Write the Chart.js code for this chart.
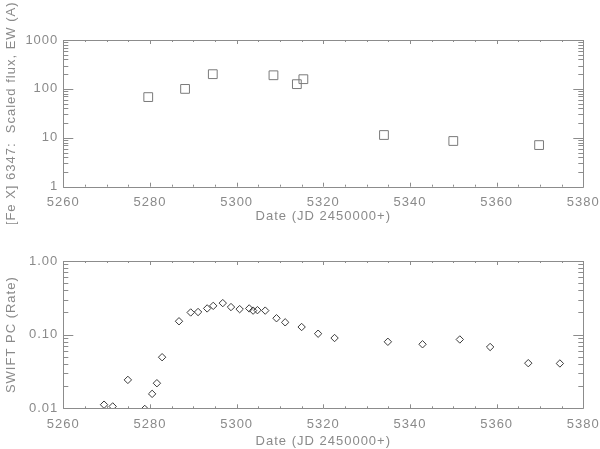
<!DOCTYPE html>
<html><head><meta charset="utf-8">
<script src="https://cdn.jsdelivr.net/npm/chart.js@4"></script>
<style>
html,body{margin:0;padding:0;background:#fff;}
#wrap{position:relative;width:600px;height:449px;}
.c{position:absolute;left:0;}
</style></head>
<body><div id="wrap">
<div class="c" style="top:0;width:600px;height:224px"><canvas id="top"></canvas></div>
<div class="c" style="top:224px;width:600px;height:225px"><canvas id="bot"></canvas></div>
</div>
<script>
// ---- data ----
const feDates = [5279.6, 5288.1, 5294.5, 5308.5, 5313.9, 5315.4, 5334.0, 5350.0, 5369.8];
const feFlux  = [68, 100, 200, 190, 125, 158, 11.4, 8.6, 7.1];

const swiftDates = [5269.4, 5271.4, 5274.9, 5278.8, 5280.5, 5281.6, 5282.8, 5286.7, 5289.4, 5291.1,
                    5293.2, 5294.6, 5296.8, 5298.7, 5300.7, 5302.9, 5303.8, 5304.8, 5306.6, 5309.2,
                    5311.2, 5315.0, 5318.8, 5322.6, 5334.9, 5342.9, 5351.5, 5358.5, 5367.3, 5374.6];
const swiftRate  = [0.0112, 0.0106, 0.0243, 0.0098, 0.0157, 0.0219, 0.0494, 0.152, 0.200, 0.203,
                    0.227, 0.246, 0.268, 0.237, 0.222, 0.227, 0.212, 0.215, 0.212, 0.167,
                    0.147, 0.127, 0.103, 0.090, 0.080, 0.074, 0.086, 0.068, 0.041, 0.0406];

const xTicks = [5260, 5280, 5300, 5320, 5340, 5360, 5380];
const feYTicks = [1, 10, 100, 1000];
const feYLabels = ['1', '10', '100', '1000'];
const swYTicks = [0.01, 0.1, 1];
const swYLabels = ['0.01', '0.10', '1.00'];

const xTitle = 'Date (JD 2450000+)';
const feTitle = '[Fe X] 6347:  Scaled flux, EW (A)';
const swTitle = 'SWIFT PC (Rate)';

// ---- style ----
const AX = '#8c8c8c';
const TXT = '#8a8a8a';
const FONT = {family: "'Liberation Sans', Arial, sans-serif", size: 13};

const spacing = {
  id: 'spacing',
  beforeUpdate(chart) { chart.ctx.letterSpacing = '1px'; },
  beforeDraw(chart) { chart.ctx.letterSpacing = '1px'; }
};

const idlFrame = {
  id: 'idlFrame',
  afterDraw(chart) {
    const {ctx, chartArea: a, scales} = chart;
    const xs = scales.x, ys = scales.y;
    ctx.save();
    ctx.strokeStyle = AX;
    ctx.lineWidth = 1;
    ctx.beginPath();
    ctx.rect(Math.round(a.left) + 0.5, Math.round(a.top) + 0.5,
             Math.round(a.right - a.left), Math.round(a.bottom - a.top));
    // x ticks
    for (let v = xs.min; v <= xs.max + 1e-6; v += 5) {
      const px = Math.round(xs.getPixelForValue(v)) + 0.5;
      const len = (Math.abs((v - xs.min) % 20) < 1e-6) ? 4 : 2;
      ctx.moveTo(px, a.bottom); ctx.lineTo(px, a.bottom - len);
      ctx.moveTo(px, a.top); ctx.lineTo(px, a.top + len);
    }
    // y ticks (log)
    const lo = Math.round(Math.log10(ys.min)), hi = Math.round(Math.log10(ys.max));
    for (let d = lo; d <= hi; d++) {
      for (let m = 1; m <= 9; m++) {
        const v = m * Math.pow(10, d);
        if (v > ys.max * 1.0001) break;
        const py = Math.round(ys.getPixelForValue(v)) + 0.5;
        const len = m === 1 ? 10 : 5;
        ctx.moveTo(a.left, py); ctx.lineTo(a.left + len, py);
        ctx.moveTo(a.right, py); ctx.lineTo(a.right - len, py);
      }
    }
    ctx.stroke();
    ctx.restore();
  }
};

function makeChart(id, dates, vals, yMin, yMax, yTicks, yLabels, yTitle, style, padTop, xHeight) {
  return new Chart(document.getElementById(id), {
    type: 'scatter',
    data: {datasets: [{
      data: dates.map((d, i) => ({x: d, y: vals[i]})),
      pointStyle: style.shape,
      pointRadius: style.r,
      pointHoverRadius: style.r,
      borderColor: style.color,
      backgroundColor: 'rgba(0,0,0,0)',
      borderWidth: 1,
      showLine: false
    }]},
    options: {
      responsive: true, maintainAspectRatio: false, animation: false,
      devicePixelRatio: 1,
      layout: {padding: {top: padTop, right: 16.7, left: 0, bottom: 0}},
      plugins: {legend: {display: false}, tooltip: {enabled: false}},
      scales: {
        x: {
          type: 'linear', min: 5260, max: 5380,
          afterBuildTicks: s => { s.ticks = xTicks.map(v => ({value: v})); },
          afterFit: s => { s.height = xHeight; s.paddingLeft = 0; s.paddingRight = 0; },
          grid: {display: false, drawTicks: false},
          border: {display: false},
          ticks: {color: TXT, font: FONT, padding: 8, maxRotation: 0, autoSkip: false,
                  callback: v => String(v)},
          title: {display: true, text: xTitle, color: TXT, font: FONT, padding: {top: 0, bottom: 0}}
        },
        y: {
          type: 'logarithmic', min: yMin, max: yMax,
          afterBuildTicks: s => { s.ticks = yTicks.map(v => ({value: v})); },
          afterFit: s => { s.width = 63.3; s.paddingTop = 0; s.paddingBottom = 0; },
          grid: {display: false, drawTicks: false},
          border: {display: false},
          ticks: {color: TXT, font: FONT, padding: 5, autoSkip: false,
                  callback: v => yLabels[yTicks.findIndex(t => Math.abs(t - v) / t < 1e-6)]},
          title: {display: true, text: yTitle, color: TXT, font: FONT, padding: {top: 4, bottom: 0}}
        }
      }
    },
    plugins: [spacing, idlFrame]
  });
}

makeChart('top', feDates, feFlux, 1, 1000, feYTicks, feYLabels, feTitle,
          {shape: 'rect', r: 6.2, color: '#7a7a7a'}, 40, 37.3);
makeChart('bot', swiftDates, swiftRate, 0.01, 1, swYTicks, swYLabels, swTitle,
          {shape: 'rectRot', r: 3.7, color: '#3a3a3a'}, 37, 40.7);
</script>
</body></html>
